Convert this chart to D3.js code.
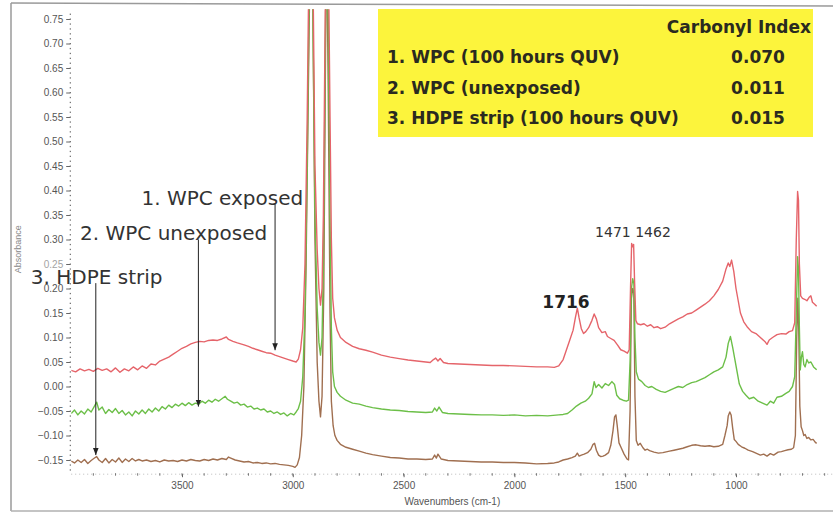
<!DOCTYPE html>
<html>
<head>
<meta charset="utf-8">
<script src="https://cdn.jsdelivr.net/npm/d3@7"></script>
<style>
  html, body { margin: 0; padding: 0; background: #fff; }
  svg { display: block; }
  .tick-label { font-family: "Liberation Sans", Arial, sans-serif; font-size: 10px; fill: #555; }
  .note { font-family: "DejaVu Sans", Verdana, sans-serif; fill: #333; }
</style>
</head>
<body>
<svg id="chart" width="833" height="516"></svg>
<script>
// ---- data: [wavenumber, absorbance] ----
const wpcExposed = [
  [4000,0.033],[3980,0.030],[3960,0.036],[3940,0.032],[3920,0.035],[3900,0.031],[3880,0.037],[3860,0.033],
  [3840,0.036],[3820,0.030],[3800,0.038],[3780,0.029],[3760,0.036],[3740,0.032],[3720,0.040],[3700,0.034],
  [3680,0.042],[3660,0.037],[3640,0.046],[3620,0.044],[3600,0.052],[3580,0.056],[3560,0.060],[3540,0.066],
  [3520,0.072],[3500,0.078],[3480,0.082],[3460,0.087],[3440,0.090],[3420,0.092],[3400,0.091],[3380,0.094],
  [3360,0.095],[3340,0.094],[3320,0.097],[3300,0.101],[3290,0.096],[3270,0.092],[3250,0.089],[3220,0.085],
  [3200,0.082],[3180,0.078],[3160,0.075],[3140,0.072],[3120,0.069],[3100,0.068],[3080,0.064],[3060,0.061],
  [3040,0.058],[3020,0.055],[3000,0.052],[2985,0.050],[2975,0.056],[2965,0.075],[2955,0.12],[2945,0.25],
  [2935,0.55],[2925,0.95],[2915,1.10],[2908,0.80],[2900,0.45],[2890,0.28],[2882,0.20],[2875,0.166],
  [2868,0.20],[2862,0.35],[2855,0.70],[2848,1.05],[2840,0.90],[2832,0.55],[2826,0.30],[2820,0.18],
  [2812,0.140],[2800,0.115],[2785,0.100],[2760,0.090],[2730,0.082],[2700,0.077],[2670,0.074],[2640,0.070],
  [2600,0.064],[2560,0.060],[2520,0.057],[2480,0.054],[2440,0.052],[2400,0.050],[2380,0.049],[2365,0.055],
  [2355,0.058],[2345,0.052],[2335,0.057],[2320,0.049],[2300,0.047],[2250,0.046],[2200,0.045],[2150,0.044],
  [2100,0.043],[2050,0.043],[2000,0.042],[1950,0.041],[1900,0.040],[1850,0.040],[1820,0.039],[1800,0.042],
  [1780,0.055],[1765,0.075],[1750,0.095],[1735,0.115],[1725,0.140],[1716,0.160],[1708,0.140],[1698,0.118],
  [1688,0.108],[1678,0.112],[1665,0.120],[1650,0.135],[1640,0.148],[1630,0.138],[1620,0.120],[1605,0.110],
  [1590,0.112],[1580,0.102],[1565,0.098],[1550,0.094],[1535,0.085],[1520,0.075],[1505,0.072],[1490,0.068],
  [1482,0.075],[1476,0.200],[1471,0.292],[1466,0.285],[1462,0.290],[1458,0.220],[1452,0.135],[1445,0.128],
  [1430,0.126],[1415,0.128],[1400,0.123],[1385,0.126],[1370,0.120],[1355,0.122],[1340,0.118],[1320,0.121],
  [1300,0.128],[1280,0.133],[1260,0.138],[1240,0.142],[1220,0.148],[1200,0.150],[1180,0.156],[1160,0.162],
  [1140,0.168],[1120,0.175],[1100,0.185],[1080,0.198],[1060,0.215],[1045,0.240],[1035,0.252],[1028,0.245],
  [1020,0.258],[1010,0.235],[1000,0.200],[990,0.175],[980,0.150],[965,0.132],[950,0.122],[930,0.112],
  [910,0.108],[890,0.100],[870,0.092],[860,0.086],[850,0.095],[835,0.100],[815,0.106],[795,0.108],
  [775,0.107],[760,0.112],[745,0.114],[735,0.130],[728,0.300],[722,0.398],[718,0.380],[714,0.250],
  [708,0.185],[700,0.180],[690,0.178],[680,0.175],[670,0.182],[662,0.185],[655,0.172],[645,0.168],[636,0.164]
];

const wpcUnexposed = [
  [4000,-0.055],[3985,-0.048],[3970,-0.058],[3955,-0.050],[3940,-0.056],[3925,-0.046],[3910,-0.052],[3895,-0.040],
  [3885,-0.032],[3875,-0.048],[3860,-0.042],[3845,-0.055],[3830,-0.047],[3815,-0.053],[3800,-0.045],[3785,-0.055],
  [3770,-0.049],[3755,-0.058],[3740,-0.052],[3725,-0.060],[3710,-0.050],[3695,-0.056],[3680,-0.048],[3665,-0.055],
  [3650,-0.046],[3635,-0.052],[3620,-0.044],[3605,-0.050],[3590,-0.041],[3575,-0.046],[3560,-0.038],[3545,-0.043],
  [3530,-0.036],[3515,-0.040],[3500,-0.034],[3485,-0.039],[3470,-0.033],[3455,-0.038],[3440,-0.034],[3425,-0.036],
  [3410,-0.030],[3395,-0.034],[3380,-0.028],[3365,-0.032],[3350,-0.026],[3335,-0.030],[3320,-0.025],[3305,-0.020],
  [3295,-0.026],[3280,-0.030],[3265,-0.034],[3250,-0.032],[3235,-0.038],[3220,-0.036],[3205,-0.042],[3190,-0.040],
  [3175,-0.046],[3160,-0.044],[3145,-0.048],[3130,-0.046],[3115,-0.052],[3100,-0.050],[3085,-0.055],[3070,-0.052],
  [3055,-0.057],[3040,-0.054],[3025,-0.060],[3010,-0.055],[2995,-0.058],[2985,-0.052],[2975,-0.045],[2965,-0.030],
  [2955,0.02],[2945,0.15],[2935,0.45],[2925,0.85],[2915,1.00],[2908,0.70],[2900,0.35],[2890,0.16],
  [2882,0.09],[2875,0.064],[2868,0.10],[2862,0.25],[2855,0.60],[2848,0.95],[2840,0.75],[2832,0.35],
  [2826,0.12],[2820,0.03],[2812,0.000],[2800,-0.012],[2785,-0.020],[2760,-0.028],[2730,-0.034],[2700,-0.036],
  [2670,-0.040],[2640,-0.043],[2600,-0.046],[2560,-0.048],[2520,-0.049],[2480,-0.051],[2440,-0.052],[2400,-0.053],
  [2370,-0.052],[2360,-0.044],[2350,-0.050],[2340,-0.042],[2325,-0.053],[2300,-0.055],[2250,-0.056],[2200,-0.057],
  [2150,-0.058],[2100,-0.058],[2050,-0.059],[2000,-0.058],[1950,-0.060],[1900,-0.059],[1850,-0.060],[1800,-0.058],
  [1780,-0.057],[1760,-0.055],[1740,-0.048],[1720,-0.040],[1700,-0.034],[1680,-0.030],[1665,-0.024],[1650,-0.015],
  [1640,0.010],[1632,-0.002],[1620,0.004],[1605,-0.003],[1590,0.006],[1575,0.002],[1560,0.010],[1548,0.004],
  [1538,-0.018],[1525,-0.025],[1510,-0.028],[1495,-0.030],[1485,-0.028],[1478,0.050],[1472,0.200],[1466,0.220],
  [1461,0.210],[1456,0.100],[1450,0.030],[1440,0.015],[1425,0.010],[1410,0.002],[1395,-0.002],[1380,0.000],
  [1360,-0.006],[1340,-0.010],[1320,-0.012],[1300,-0.008],[1280,-0.004],[1260,0.000],[1240,-0.002],[1220,0.004],
  [1200,0.008],[1180,0.010],[1160,0.014],[1140,0.018],[1120,0.024],[1100,0.030],[1080,0.034],[1060,0.040],
  [1045,0.060],[1035,0.088],[1025,0.102],[1015,0.080],[1005,0.055],[995,0.030],[985,0.005],[970,-0.010],
  [955,-0.018],[940,-0.025],[920,-0.022],[900,-0.030],[880,-0.034],[860,-0.038],[845,-0.030],[830,-0.034],
  [815,-0.022],[795,-0.020],[775,-0.014],[760,-0.010],[745,0.000],[735,0.020],[728,0.150],[722,0.265],
  [718,0.240],[714,0.120],[710,0.034],[705,0.060],[700,0.071],[694,0.045],[688,0.040],[680,0.055],
  [672,0.048],[662,0.050],[650,0.040],[636,0.034]
];

const hdpeStrip = [
  [4000,-0.152],[3985,-0.156],[3970,-0.150],[3955,-0.155],[3940,-0.149],[3925,-0.157],[3910,-0.151],[3895,-0.146],
  [3885,-0.143],[3875,-0.150],[3860,-0.155],[3845,-0.147],[3830,-0.156],[3815,-0.149],[3800,-0.154],[3785,-0.146],
  [3770,-0.155],[3755,-0.148],[3740,-0.153],[3725,-0.147],[3710,-0.152],[3695,-0.149],[3680,-0.152],[3660,-0.150],
  [3640,-0.153],[3620,-0.151],[3600,-0.154],[3580,-0.150],[3560,-0.152],[3540,-0.151],[3520,-0.153],[3500,-0.150],
  [3480,-0.152],[3460,-0.149],[3440,-0.151],[3420,-0.152],[3400,-0.149],[3380,-0.151],[3360,-0.148],[3340,-0.150],
  [3320,-0.147],[3300,-0.149],[3290,-0.144],[3280,-0.146],[3260,-0.150],[3240,-0.152],[3220,-0.154],[3200,-0.153],
  [3180,-0.156],[3160,-0.155],[3140,-0.157],[3120,-0.156],[3100,-0.158],[3080,-0.157],[3060,-0.159],[3040,-0.160],
  [3020,-0.161],[3000,-0.163],[2990,-0.165],[2980,-0.160],[2970,-0.145],[2960,-0.10],[2950,0.00],[2940,0.25],
  [2930,0.60],[2920,0.95],[2915,1.05],[2908,0.70],[2900,0.30],[2890,0.05],[2882,-0.03],[2875,-0.062],
  [2868,-0.02],[2860,0.20],[2852,0.70],[2848,0.95],[2840,0.60],[2832,0.15],[2826,-0.03],[2818,-0.08],
  [2810,-0.100],[2800,-0.110],[2785,-0.118],[2760,-0.124],[2730,-0.128],[2700,-0.132],[2670,-0.136],[2640,-0.139],
  [2600,-0.142],[2560,-0.145],[2520,-0.146],[2480,-0.148],[2440,-0.148],[2400,-0.149],[2370,-0.148],[2360,-0.140],
  [2352,-0.146],[2345,-0.138],[2330,-0.148],[2300,-0.151],[2250,-0.152],[2200,-0.153],[2150,-0.154],[2100,-0.154],
  [2050,-0.155],[2000,-0.155],[1950,-0.156],[1900,-0.158],[1850,-0.157],[1820,-0.156],[1800,-0.154],[1780,-0.150],
  [1760,-0.148],[1740,-0.145],[1725,-0.142],[1716,-0.136],[1708,-0.142],[1698,-0.140],[1685,-0.138],[1670,-0.135],
  [1655,-0.128],[1645,-0.118],[1638,-0.116],[1630,-0.130],[1620,-0.140],[1610,-0.143],[1600,-0.142],[1590,-0.140],
  [1575,-0.135],[1565,-0.120],[1555,-0.090],[1548,-0.062],[1542,-0.058],[1536,-0.080],[1528,-0.115],[1518,-0.125],
  [1505,-0.138],[1492,-0.148],[1485,-0.150],[1478,-0.050],[1472,0.180],[1466,0.200],[1461,0.190],[1456,-0.020],
  [1450,-0.110],[1442,-0.120],[1432,-0.116],[1420,-0.125],[1410,-0.130],[1400,-0.128],[1390,-0.131],[1370,-0.134],
  [1350,-0.136],[1330,-0.135],[1300,-0.132],[1280,-0.130],[1260,-0.128],[1240,-0.126],[1220,-0.123],[1200,-0.120],
  [1180,-0.119],[1160,-0.121],[1140,-0.122],[1120,-0.121],[1100,-0.123],[1080,-0.122],[1060,-0.118],[1050,-0.100],
  [1040,-0.080],[1035,-0.060],[1028,-0.052],[1022,-0.058],[1015,-0.085],[1008,-0.108],[1000,-0.112],[990,-0.118],
  [975,-0.123],[960,-0.126],[945,-0.130],[925,-0.133],[905,-0.137],[890,-0.140],[875,-0.138],[860,-0.142],
  [845,-0.137],[830,-0.140],[810,-0.134],[795,-0.133],[780,-0.131],[765,-0.129],[750,-0.128],[740,-0.125],
  [732,-0.100],[726,0.100],[721,0.180],[717,0.120],[712,-0.040],[706,-0.082],[700,-0.090],[694,-0.100],
  [688,-0.098],[680,-0.106],[672,-0.104],[662,-0.109],[652,-0.108],[642,-0.114],[636,-0.116]
];

const yTicks = [-0.15,-0.10,-0.05,0.00,0.05,0.10,0.15,0.20,0.25,0.30,0.35,0.40,0.45,0.50,0.55,0.60,0.65,0.70,0.75];
const xTicks = [3500,3000,2500,2000,1500,1000];

const tableHead = "Carbonyl Index";
const tableRows = ["1. WPC (100 hours QUV)", "2. WPC (unexposed)", "3. HDPE strip (100 hours QUV)"];
const tableValues = ["0.070", "0.011", "0.015"];

// ---- drawing ----
const svg = d3.select("#chart");
const x = d3.scaleLinear().domain([4000, 560]).range([71.2, 833.5]);
const y = d3.scaleLinear().domain([-0.18, 0.77]).range([474.7, 9.2]);

// outer frame (scanned figure border)
svg.append("line").attr("x1", 11).attr("x2", 11).attr("y1", 3).attr("y2", 511)
  .attr("stroke", "#9a9a9a").attr("stroke-width", 1.5);
svg.append("line").attr("x1", 11).attr("x2", 833).attr("y1", 3).attr("y2", 6)
  .attr("stroke", "#9a9a9a").attr("stroke-width", 1.5);
svg.append("line").attr("x1", 11).attr("x2", 833).attr("y1", 511).attr("y2", 511)
  .attr("stroke", "#b0b0b0").attr("stroke-width", 1.5);

// y axis: dotted, minor every 0.01
const y0 = x.range()[0] - 1;
const yMinor = d3.range(-17, 77).map(d => d / 100);
svg.append("g").selectAll("rect").data(yMinor).join("rect")
  .attr("x", y0 - 0.5).attr("y", d => y(d) - 0.5).attr("width", 1.3).attr("height", 1.3)
  .attr("fill", "#777");
const yAxis = svg.append("g").attr("transform", `translate(${y0},0)`)
  .call(d3.axisLeft(y).tickValues(yTicks).tickSize(4).tickPadding(3).tickFormat(d3.format(".2f")));
yAxis.select(".domain").remove();
yAxis.selectAll("line").attr("stroke", "#666");
yAxis.selectAll("text").attr("class", "tick-label").attr("font-size", null).attr("font-family", null).attr("fill", null)
  .style("opacity", d => d === 0.25 ? 0.55 : 1);

svg.append("text").attr("class", "tick-label")
  .attr("transform", `translate(21,${y(0.28)}) rotate(-90)`)
  .attr("text-anchor", "middle").style("font-size", "9px").style("fill", "#888")
  .text("Absorbance");

// x axis: dotted, minor every 100
const xBase = y(-0.18) - 0.5;
svg.append("line").attr("x1", x.range()[0]).attr("x2", x.range()[1]).attr("y1", xBase).attr("y2", xBase)
  .attr("stroke", "#bbb").attr("stroke-dasharray", "1,3");
const xMinor = d3.range(600, 4000, 100);
svg.append("g").selectAll("line").data(xMinor).join("line")
  .attr("x1", d => x(d)).attr("x2", d => x(d)).attr("y1", xBase - 1).attr("y2", xBase + 1.5)
  .attr("stroke", "#777");
const xAxis = svg.append("g").attr("transform", `translate(0,${xBase})`)
  .call(d3.axisBottom(x).tickValues(xTicks).tickSize(3).tickPadding(5).tickFormat(d3.format("d")));
xAxis.select(".domain").remove();
xAxis.selectAll("line").attr("stroke", "#666");
xAxis.selectAll("text").attr("class", "tick-label").attr("font-size", null).attr("font-family", null).attr("fill", null);

svg.append("text").attr("class", "tick-label")
  .attr("x", x(2280)).attr("y", 505).attr("text-anchor", "middle")
  .text("Wavenumbers (cm-1)");

// spectra
svg.append("clipPath").attr("id", "plot-clip").append("rect")
  .attr("x", x.range()[0]).attr("y", y(0.77)).attr("width", x.range()[1] - x.range()[0])
  .attr("height", y(-0.18) - y(0.77));

const line = d3.line().x(d => x(d[0])).y(d => y(d[1]));
const series = [
  { data: hdpeStrip, color: "#a06f50" },
  { data: wpcUnexposed, color: "#6cbf48" },
  { data: wpcExposed, color: "#e5646a" }
];
svg.append("g").attr("clip-path", "url(#plot-clip)")
  .selectAll("path").data(series).join("path")
  .attr("d", d => line(d.data))
  .attr("fill", "none").attr("stroke", d => d.color).attr("stroke-width", 1.4)
  .attr("stroke-linejoin", "round");

// annotations with arrows
const defs = svg.append("defs");
defs.append("marker").attr("id", "arrow").attr("viewBox", "0 0 10 10")
  .attr("refX", 10).attr("refY", 5).attr("markerWidth", 7).attr("markerHeight", 8)
  .attr("orient", "auto").append("path").attr("d", "M0,1L10,5L0,9Z").attr("fill", "#222");

const notes = [
  { text: "1. WPC exposed", tx: 3683, ty: 0.370, ax: 3080, a0: 0.372, a1: 0.074 },
  { text: "2. WPC unexposed", tx: 3960, ty: 0.298, ax: 3426, a0: 0.300, a1: -0.041 },
  { text: "3. HDPE strip", tx: 4182, ty: 0.209, ax: 3889, a0: 0.211, a1: -0.140 }
];
notes.forEach(n => {
  svg.append("line").attr("x1", x(n.ax)).attr("x2", x(n.ax)).attr("y1", y(n.a0)).attr("y2", y(n.a1))
    .attr("stroke", "#222").attr("stroke-width", 1).attr("marker-end", "url(#arrow)");
  svg.append("text").attr("class", "note").attr("x", x(n.tx)).attr("y", y(n.ty))
    .style("font-size", "20px").text(n.text);
});

svg.append("text").attr("class", "note").attr("x", x(1767)).attr("y", y(0.160))
  .attr("text-anchor", "middle").style("font-size", "17px").style("font-weight", "bold").style("fill", "#222")
  .text("1716");
svg.append("text").attr("class", "note").attr("x", x(1465)).attr("y", y(0.305))
  .attr("text-anchor", "middle").style("font-size", "14px")
  .text("1471 1462");

// carbonyl index table
const table = svg.append("g");
table.append("rect").attr("x", 378).attr("y", 9).attr("width", 435).attr("height", 128).attr("fill", "#fcf43c");
table.append("text").attr("class", "note").attr("x", 811).attr("y", 32.5).attr("text-anchor", "end")
  .style("font-size", "17px").style("font-weight", "bold").style("fill", "#2a2a20").text(tableHead);
const rowY = [63, 94, 124];
tableRows.forEach((r, i) => {
  table.append("text").attr("class", "note").attr("x", 387).attr("y", rowY[i])
    .style("font-size", "17px").style("font-weight", "bold").style("fill", "#2a2a20").text(r);
  table.append("text").attr("class", "note").attr("x", 758).attr("y", rowY[i]).attr("text-anchor", "middle")
    .style("font-size", "17px").style("font-weight", "bold").style("fill", "#2a2a20").text(tableValues[i]);
});
</script>
</body>
</html>
